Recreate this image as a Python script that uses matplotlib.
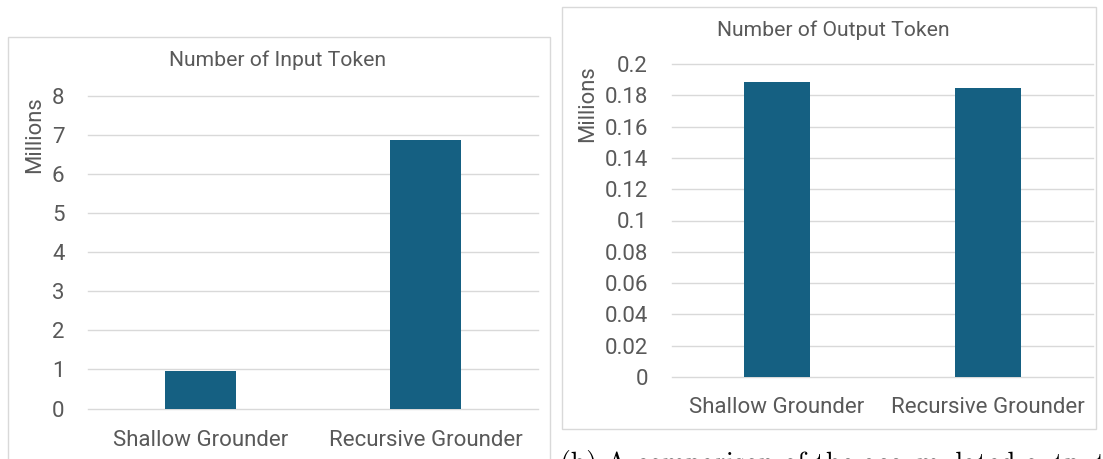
import matplotlib
matplotlib.use("Agg")
import matplotlib.pyplot as plt
from matplotlib.patches import Rectangle

# data
categories = ["Shallow Grounder", "Recursive Grounder"]
input_tokens = [0.97, 6.86]      # millions
output_tokens = [0.1887, 0.1847]  # millions
input_ticks = [0, 1, 2, 3, 4, 5, 6, 7, 8]
output_ticks = [0, 0.02, 0.04, 0.06, 0.08, 0.1, 0.12, 0.14, 0.16, 0.18, 0.2]
output_tick_labels = ["0", "0.02", "0.04", "0.06", "0.08", "0.1", "0.12",
                      "0.14", "0.16", "0.18", "0.2"]

W, H = 1103, 459
BAR = "#156082"
TXT = "#595959"
GRID = "#D9D9D9"
FONT = "Roboto"

fig = plt.figure(figsize=(W / 100, H / 100), dpi=100)


def px_axes(x0, x1, ytop, ybot):
    return fig.add_axes([x0 / W, (H - ybot) / H, (x1 - x0) / W, (ybot - ytop) / H])


def box(x0, y0, x1, y1):
    fig.patches.append(Rectangle((x0 / W, (H - y1) / H), (x1 - x0) / W, (y1 - y0) / H,
                                 transform=fig.transFigure, fill=False,
                                 edgecolor=GRID, linewidth=1.0))


def style(ax, ticks, labels, top):
    ax.set_xlim(-0.5, 1.5)
    ax.set_ylim(0, top)
    ax.set_yticks(ticks)
    ax.set_yticklabels(labels)
    ax.set_xticks([])
    for s in ax.spines.values():
        s.set_visible(False)
    ax.yaxis.grid(True, color=GRID, linewidth=1.0)
    for gl in ax.get_ygridlines():
        gl.set_clip_on(False)
    ax.set_axisbelow(True)
    ax.tick_params(axis="y", length=0, pad=17, labelsize=16, labelcolor=TXT)
    for t in ax.get_yticklabels():
        t.set_fontfamily(FONT)


# left chart
box(8, 37, 550, 470)
ax1 = px_axes(88, 538, 95.5, 408.6)
ax1.bar(range(len(categories)), input_tokens, width=0.313, color=BAR)
style(ax1, input_ticks, [str(t) for t in input_ticks], 8)
for i, c in enumerate(categories):
    ax1.text(i, -0.102, c, transform=ax1.get_xaxis_transform(), ha="center", va="center",
             fontsize=16, color=TXT, family=FONT)
fig.text(278 / W, 1 - 60 / H, "Number of Input Token", ha="center", va="center",
         fontsize=15.2, color=TXT, family=FONT)
fig.text(35 / W, 1 - 135 / H, "Millions", rotation=90, ha="center", va="center",
         fontsize=15.8, color=TXT, family=FONT)

# right chart
box(562, 7, 1096, 429)
ax2 = px_axes(671.5, 1093, 64, 377)
ax2.bar(range(len(categories)), output_tokens, width=0.313, color=BAR)
style(ax2, output_ticks, output_tick_labels, 0.2)
for i, c in enumerate(categories):
    ax2.text(i, -0.096, c, transform=ax2.get_xaxis_transform(), ha="center", va="center",
             fontsize=16, color=TXT, family=FONT)
fig.text(833 / W, 1 - 30 / H, "Number of Output Token", ha="center", va="center",
         fontsize=15.2, color=TXT, family=FONT)
fig.text(588 / W, 1 - 104 / H, "Millions", rotation=90, ha="center", va="center",
         fontsize=15.8, color=TXT, family=FONT)

# caption, cut off at the bottom edge as in the source
fig.text(560 / W, 1 - 450 / H, "(b) A comparison of the accumulated output",
         ha="left", va="top", fontsize=20, color="black", family="cmr10")

fig.savefig("out.png", dpi=100)
